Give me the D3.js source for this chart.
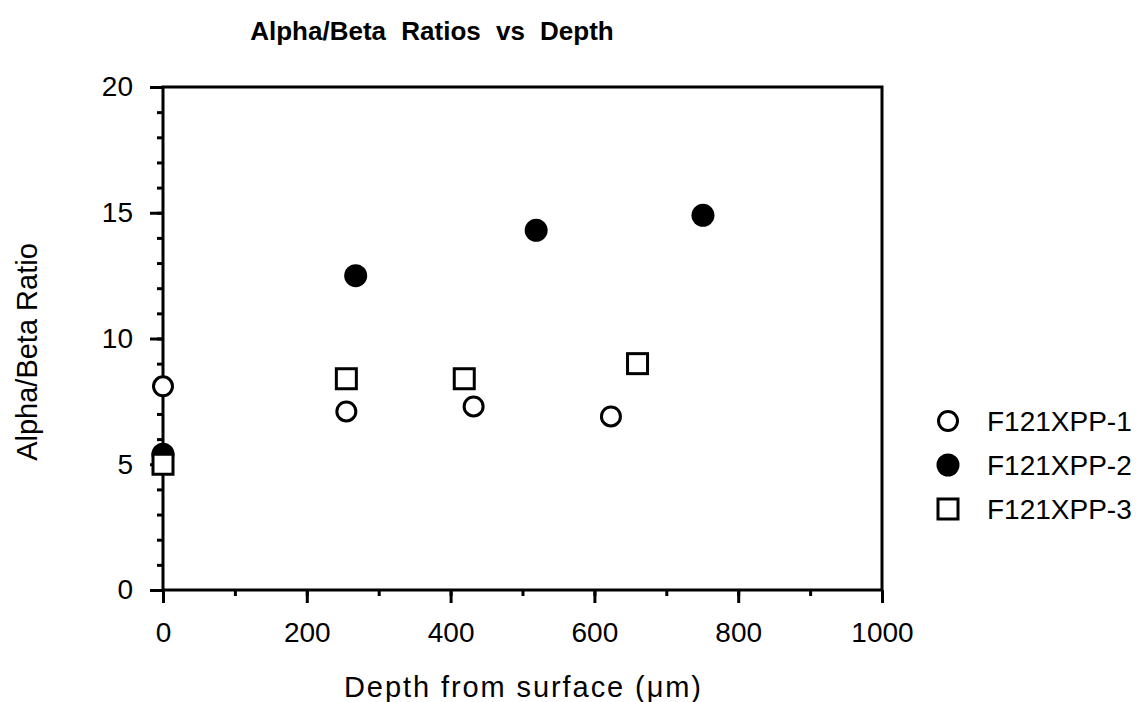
<!DOCTYPE html>
<html>
<head>
<meta charset="utf-8">
<script src="https://cdn.jsdelivr.net/npm/d3@7"></script>
<style>
  body { margin: 0; background: #fff; }
  text { font-family: "Liberation Sans", Arial, Helvetica, sans-serif; fill: #000; }
</style>
</head>
<body>
<script>
// series data
var seriesNames = ['F121XPP-1', 'F121XPP-2', 'F121XPP-3'];
var depth1 = [0, 255, 432, 623];
var ratio1 = [8.1, 7.1, 7.3, 6.9];
var depth2 = [0, 268, 519, 751];
var ratio2 = [5.4, 12.5, 14.3, 14.9];
var depth3 = [0, 255, 419, 660];
var ratio3 = [5.0, 8.4, 8.4, 9.0];
var xTicks = [0, 200, 400, 600, 800, 1000];
var yTicks = [0, 5, 10, 15, 20];

const width = 1140;
const height = 702;
const plotLeft = 163, plotRight = 882, plotTop = 87, plotBottom = 590;

const xScale = d3.scaleLinear().domain([0, 1000]).range([plotLeft, plotRight]);
const yScale = d3.scaleLinear().domain([0, 20]).range([plotBottom, plotTop]);

const svg = d3.select('body').append('svg')
    .attr('width', width)
    .attr('height', height);

// title
svg.append('text')
    .attr('x', 432)
    .attr('y', 40)
    .attr('text-anchor', 'middle')
    .attr('font-size', 26)
    .attr('font-weight', 'bold')
    .attr('word-spacing', 8)
    .text('Alpha/Beta Ratios vs Depth');

// frame
svg.append('rect')
    .attr('x', plotLeft).attr('y', plotTop)
    .attr('width', plotRight - plotLeft).attr('height', plotBottom - plotTop)
    .attr('fill', 'none').attr('stroke', '#000').attr('stroke-width', 3);

function styleAxis(g) {
    g.select('.domain').remove();
    g.selectAll('.tick line').attr('stroke', '#000').attr('stroke-width', 3);
    g.selectAll('.tick text')
        .attr('font-size', 28)
        .attr('font-family', '"Liberation Sans", Arial, Helvetica, sans-serif')
        .attr('fill', '#000');
}

// x axis, minor then major
svg.append('g')
    .attr('transform', `translate(0, ${plotBottom})`)
    .call(d3.axisBottom(xScale).tickValues(d3.range(0, 1001, 100)).tickSize(6).tickFormat(''))
    .call(styleAxis);
svg.append('g')
    .attr('transform', `translate(0, ${plotBottom})`)
    .call(d3.axisBottom(xScale).tickValues(xTicks).tickSize(13).tickPadding(19).tickFormat(d3.format('d')))
    .call(styleAxis);

// y axis, minor then major
svg.append('g')
    .attr('transform', `translate(${plotLeft}, 0)`)
    .call(d3.axisLeft(yScale).tickValues(d3.range(0, 21, 1)).tickSize(6).tickFormat(''))
    .call(styleAxis);
svg.append('g')
    .attr('transform', `translate(${plotLeft}, 0)`)
    .call(d3.axisLeft(yScale).tickValues(yTicks).tickSize(13).tickPadding(17))
    .call(styleAxis);

// axis titles
svg.append('text')
    .attr('x', (plotLeft + plotRight) / 2)
    .attr('y', 697)
    .attr('text-anchor', 'middle')
    .attr('font-size', 29)
    .attr('textLength', 357)
    .text('Depth from surface (\u03bcm)');

svg.append('text')
    .attr('transform', 'translate(37, 352) rotate(-90)')
    .attr('text-anchor', 'middle')
    .attr('font-size', 29)
    .text('Alpha/Beta Ratio');

// markers
function drawMarker(g, type, x, y) {
    if (type == 0) {
        g.append('circle').attr('cx', x).attr('cy', y).attr('r', 9.5)
            .attr('fill', '#fff').attr('stroke', '#000').attr('stroke-width', 3);
    } else if (type == 1) {
        g.append('circle').attr('cx', x).attr('cy', y).attr('r', 11.5)
            .attr('fill', '#000');
    } else {
        g.append('rect').attr('x', x - 10).attr('y', y - 10)
            .attr('width', 20).attr('height', 20)
            .attr('fill', '#fff').attr('stroke', '#000').attr('stroke-width', 3);
    }
}

var depths = [depth1, depth2, depth3];
var ratios = [ratio1, ratio2, ratio3];
var points = svg.append('g');
// filled circles first, then squares and open circles on top
[1, 2, 0].forEach(function (s) {
    for (var i = 0; i < depths[s].length; i++) {
        drawMarker(points, s, xScale(depths[s][i]), yScale(ratios[s][i]));
    }
});

// legend
var legend = svg.append('g');
seriesNames.forEach(function (name, i) {
    var ly = 421 + i * 44;
    drawMarker(legend, i, 948, ly);
    legend.append('text')
        .attr('x', 987)
        .attr('y', ly)
        .attr('dy', '0.35em')
        .attr('font-size', 28)
        .text(name);
});
</script>
</body>
</html>
